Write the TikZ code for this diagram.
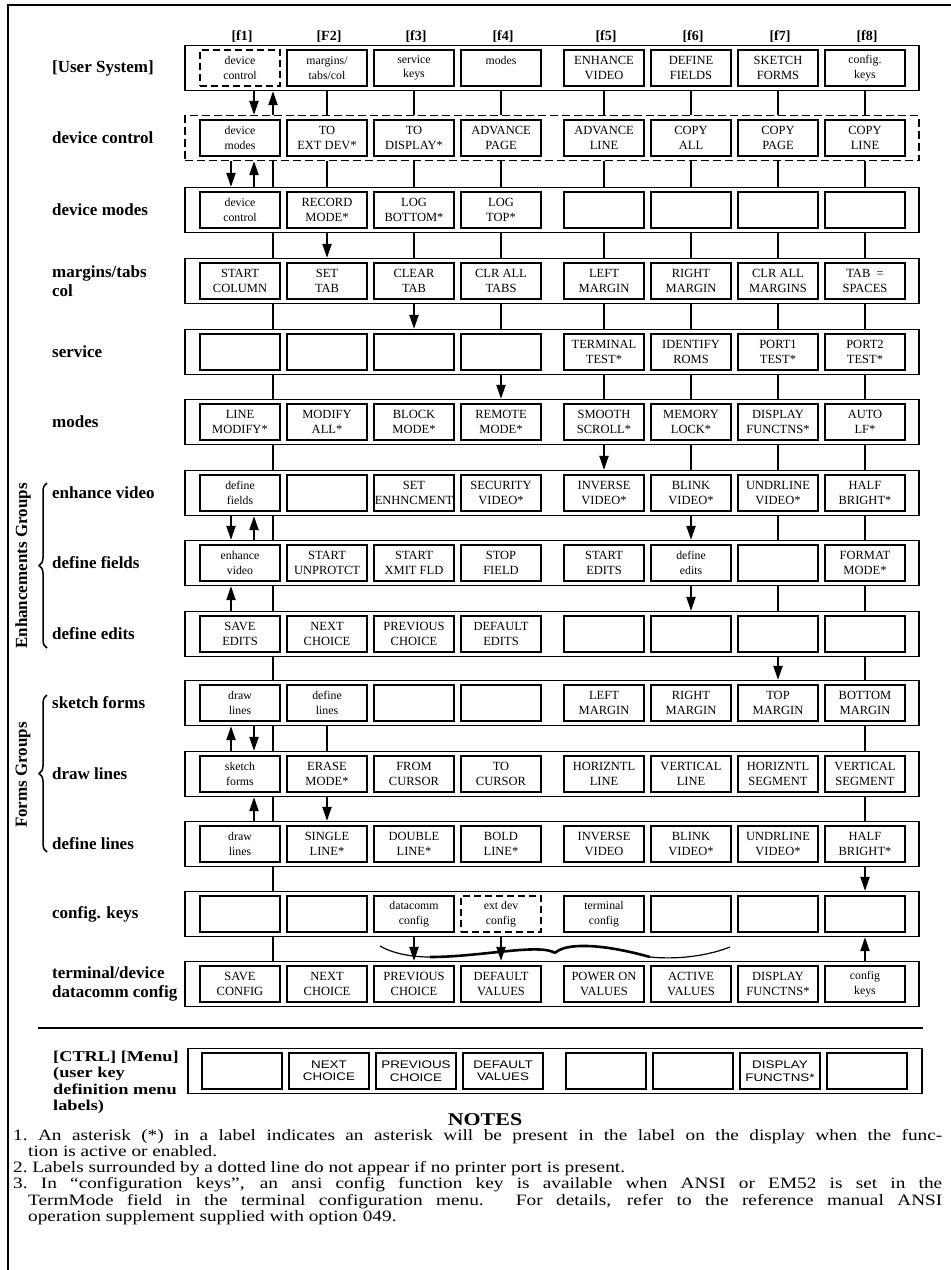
\documentclass[tikz,border=0pt]{standalone}
\usepackage{fontspec}
\setmainfont{Liberation Serif}
\newfontfamily\wideserif[FakeStretch=1.22,Ligatures=TeX]{Liberation Serif}
\newfontfamily\widesans[FakeStretch=1.22]{Liberation Sans}
\usepackage{tikz}
\usetikzlibrary{arrows.meta}
\usetikzlibrary{decorations.pathreplacing}

\tikzset{
  strip/.style={draw, line width=1.2pt, minimum width=734pt, minimum height=45pt, inner sep=0pt},
  dstrip/.style={strip, dash pattern=on 8pt off 4pt},
  key/.style={draw, line width=1.3pt, minimum width=80pt, minimum height=36pt, inner sep=0pt,
    align=center, font=\fontsize{12.5}{14.5}\selectfont},
  lkey/.style={key, font=\fontsize{11.8}{14.5}\selectfont},
  dkey/.style={lkey, dash pattern=on 7pt off 4pt},
  mkey/.style={key, font=\widesans\fontsize{11}{12.5}\selectfont},
  link/.style={line width=2pt},
  arr/.style={line width=2pt, -{Triangle[length=14pt, width=9pt]}},
  rowlab/.style={anchor=west, align=left, inner sep=0pt, font=\bfseries\fontsize{17}{19}\selectfont},
  head/.style={anchor=base, inner sep=0pt, font=\bfseries\fontsize{14}{16}\selectfont}
}

\begin{document}
\begin{tikzpicture}[x=1pt, y=-1pt]
                  \useasboundingbox (0,0) rectangle (951,1270);

                  % Define columns
                  \foreach \xx [count=\col] in {240,327,414,501,604,691,778,865}
                    \coordinate (c\col) at (\xx,0);
                  \coordinate (ca) at (231,0);
                  \coordinate (cb) at (254,0);
                  \coordinate (cc) at (273,0);
                  \coordinate (lx) at (52,0);
                  \coordinate (hy) at (0,40);

                  % Frame
                  \draw[line width=2.5pt] (951,5) -- (8,5) -- (8,1270);
                  \draw[line width=2.5pt] (38,1028) -- (923,1028);

                  % Draw rows
                  \foreach \st/\yy [count=\r] in {strip/68, dstrip/138, strip/210, strip/281, strip/352,
                      strip/422, strip/493, strip/563, strip/634, strip/703, strip/774, strip/844,
                      strip/914, strip/984}
                    \node[\st] (row\r) at (552,\yy) {};
                  \node[strip] (row15) at (555,1071) {};

                  % Keys
                  \foreach \st/\lbl [count=\col] in {dkey/{device\\control}, lkey/{margins/\\tabs/col}, lkey/{service\\keys}, lkey/{modes\\\mbox{}}, key/{ENHANCE\\VIDEO}, key/{DEFINE\\FIELDS}, key/{SKETCH\\FORMS}, lkey/{config.\\keys}}
                    \node[\st] (k1-\col) at (c\col |- row1) {\lbl};
                  \foreach \st/\lbl [count=\col] in {lkey/{device\\modes}, key/{TO\\EXT DEV*}, key/{TO\\DISPLAY*}, key/{ADVANCE\\PAGE}, key/{ADVANCE\\LINE}, key/{COPY\\ALL}, key/{COPY\\PAGE}, key/{COPY\\LINE}}
                    \node[\st] (k2-\col) at (c\col |- row2) {\lbl};
                  \foreach \st/\lbl [count=\col] in {lkey/{device\\control}, key/{RECORD\\MODE*}, key/{LOG\\BOTTOM*}, key/{LOG\\TOP*}, key/{}, key/{}, key/{}, key/{}}
                    \node[\st] (k3-\col) at (c\col |- row3) {\lbl};
                  \foreach \st/\lbl [count=\col] in {key/{START\\COLUMN}, key/{SET\\TAB}, key/{CLEAR\\TAB}, key/{CLR ALL\\TABS}, key/{LEFT\\MARGIN}, key/{RIGHT\\MARGIN}, key/{CLR ALL\\MARGINS}, key/{TAB\ \ =\\SPACES}}
                    \node[\st] (k4-\col) at (c\col |- row4) {\lbl};
                  \foreach \st/\lbl [count=\col] in {key/{}, key/{}, key/{}, key/{}, key/{TERMINAL\\TEST*}, key/{IDENTIFY\\ROMS}, key/{PORT1\\TEST*}, key/{PORT2\\TEST*}}
                    \node[\st] (k5-\col) at (c\col |- row5) {\lbl};
                  \foreach \st/\lbl [count=\col] in {key/{LINE\\MODIFY*}, key/{MODIFY\\ALL*}, key/{BLOCK\\MODE*}, key/{REMOTE\\MODE*}, key/{SMOOTH\\SCROLL*}, key/{MEMORY\\LOCK*}, key/{DISPLAY\\FUNCTNS*}, key/{AUTO\\LF*}}
                    \node[\st] (k6-\col) at (c\col |- row6) {\lbl};
                  \foreach \st/\lbl [count=\col] in {lkey/{define\\fields}, key/{}, key/{SET\\ENHNCMENT}, key/{SECURITY\\VIDEO*}, key/{INVERSE\\VIDEO*}, key/{BLINK\\VIDEO*}, key/{UNDRLINE\\VIDEO*}, key/{HALF\\BRIGHT*}}
                    \node[\st] (k7-\col) at (c\col |- row7) {\lbl};
                  \foreach \st/\lbl [count=\col] in {lkey/{enhance\\video}, key/{START\\UNPROTCT}, key/{START\\XMIT FLD}, key/{STOP\\FIELD}, key/{START\\EDITS}, lkey/{define\\edits}, key/{}, key/{FORMAT\\MODE*}}
                    \node[\st] (k8-\col) at (c\col |- row8) {\lbl};
                  \foreach \st/\lbl [count=\col] in {key/{SAVE\\EDITS}, key/{NEXT\\CHOICE}, key/{PREVIOUS\\CHOICE}, key/{DEFAULT\\EDITS}, key/{}, key/{}, key/{}, key/{}}
                    \node[\st] (k9-\col) at (c\col |- row9) {\lbl};
                  \foreach \st/\lbl [count=\col] in {lkey/{draw\\lines}, lkey/{define\\lines}, key/{}, key/{}, key/{LEFT\\MARGIN}, key/{RIGHT\\MARGIN}, key/{TOP\\MARGIN}, key/{BOTTOM\\MARGIN}}
                    \node[\st] (k10-\col) at (c\col |- row10) {\lbl};
                  \foreach \st/\lbl [count=\col] in {lkey/{sketch\\forms}, key/{ERASE\\MODE*}, key/{FROM\\CURSOR}, key/{TO\\CURSOR}, key/{HORIZNTL\\LINE}, key/{VERTICAL\\LINE}, key/{HORIZNTL\\SEGMENT}, key/{VERTICAL\\SEGMENT}}
                    \node[\st] (k11-\col) at (c\col |- row11) {\lbl};
                  \foreach \st/\lbl [count=\col] in {lkey/{draw\\lines}, key/{SINGLE\\LINE*}, key/{DOUBLE\\LINE*}, key/{BOLD\\LINE*}, key/{INVERSE\\VIDEO}, key/{BLINK\\VIDEO*}, key/{UNDRLINE\\VIDEO*}, key/{HALF\\BRIGHT*}}
                    \node[\st] (k12-\col) at (c\col |- row12) {\lbl};
                  \foreach \st/\lbl [count=\col] in {key/{}, key/{}, lkey/{datacomm\\config}, dkey/{ext dev\\config}, lkey/{terminal\\config}, key/{}, key/{}, key/{}}
                    \node[\st] (k13-\col) at (c\col |- row13) {\lbl};
                  \foreach \st/\lbl [count=\col] in {key/{SAVE\\CONFIG}, key/{NEXT\\CHOICE}, key/{PREVIOUS\\CHOICE}, key/{DEFAULT\\VALUES}, key/{POWER ON\\VALUES}, key/{ACTIVE\\VALUES}, key/{DISPLAY\\FUNCTNS*}, lkey/{config\\keys}}
                    \node[\st] (k14-\col) at (c\col |- row14) {\lbl};
                  \foreach \lbl [count=\col] in {{}, {NEXT\\CHOICE}, {PREVIOUS\\CHOICE}, {DEFAULT\\VALUES}, {}, {}, {DISPLAY\\FUNCTNS*}, {}}
                    \node[mkey, xshift=2pt] (k15-\col) at (c\col |- row15) {\lbl};

                  % Links between rows
                  \draw[arr] (row1.south -| cb) -- (row2.north -| cb);
                  \draw[arr] (row2.north -| cc) -- (row1.south -| cc);
                  \foreach \p in {c2,c3,c4,c5,c6,c7,c8} \draw[link] (row1.south -| \p) -- (row2.north -| \p);

                  \draw[arr] (row2.south -| ca) -- (row3.north -| ca);
                  \draw[arr] (row3.north -| cb) -- (row2.south -| cb);
                  \foreach \p in {cc,c2,c3,c4,c5,c6,c7,c8} \draw[link] (row2.south -| \p) -- (row3.north -| \p);

                  \draw[arr] (row3.south -| c2) -- (row4.north -| c2);
                  \foreach \p in {cc,c3,c4,c5,c6,c7,c8} \draw[link] (row3.south -| \p) -- (row4.north -| \p);

                  \draw[arr] (row4.south -| c3) -- (row5.north -| c3);
                  \foreach \p in {cc,c4,c5,c6,c7,c8} \draw[link] (row4.south -| \p) -- (row5.north -| \p);

                  \draw[arr] (row5.south -| c4) -- (row6.north -| c4);
                  \foreach \p in {cc,c5,c6,c7,c8} \draw[link] (row5.south -| \p) -- (row6.north -| \p);

                  \draw[arr] (row6.south -| c5) -- (row7.north -| c5);
                  \foreach \p in {cc,c6,c7,c8} \draw[link] (row6.south -| \p) -- (row7.north -| \p);

                  \draw[arr] (row7.south -| ca) -- (row8.north -| ca);
                  \draw[arr] (row8.north -| cb) -- (row7.south -| cb);
                  \draw[arr] (row7.south -| c6) -- (row8.north -| c6);
                  \foreach \p in {cc,c7,c8} \draw[link] (row7.south -| \p) -- (row8.north -| \p);

                  \draw[arr] (row9.north -| ca) -- (row8.south -| ca);
                  \draw[arr] (row8.south -| c6) -- (row9.north -| c6);
                  \foreach \p in {cc,c7,c8} \draw[link] (row8.south -| \p) -- (row9.north -| \p);

                  \draw[arr] (row9.south -| c7) -- (row10.north -| c7);
                  \foreach \p in {cc,c8} \draw[link] (row9.south -| \p) -- (row10.north -| \p);

                  \draw[arr] (row11.north -| ca) -- (row10.south -| ca);
                  \draw[arr] (row10.south -| cb) -- (row11.north -| cb);
                  \foreach \p in {cc,c2,c8} \draw[link] (row10.south -| \p) -- (row11.north -| \p);

                  \draw[arr] (row12.north -| cb) -- (row11.south -| cb);
                  \draw[arr] (row11.south -| c2) -- (row12.north -| c2);
                  \foreach \p in {cc,c8} \draw[link] (row11.south -| \p) -- (row12.north -| \p);

                  \draw[arr] (row12.south -| c8) -- (row13.north -| c8);
                  \draw[link] (row12.south -| cc) -- (row13.north -| cc);

                  \draw[arr] (row13.south -| c3) -- (row14.north -| c3);
                  \draw[arr] (row13.south -| c4) -- (row14.north -| c4);
                  \draw[arr] (row14.north -| c8) -- (row13.south -| c8);
                  \draw[link] (row13.south -| cc) -- (row14.north -| cc);

                  % Wavy brace under config keys
                  \draw[line width=1.2pt] (380,946) .. controls (392,953) and (410,957) .. (430,957);
                  \draw[line width=2.6pt] (430,957) .. controls (480,957) and (540,943) .. (555,953);
                  \draw[line width=2.6pt] (555,953) .. controls (565,943) and (600,943) .. (650,957);
                  \draw[line width=1.2pt] (650,957) .. controls (680,960) and (710,955) .. (730,947);

                  % Labels
                  \foreach \lbl [count=\col] in {{[f1]},{[F2]},{[f3]},{[f4]},{[f5]},{[f6]},{[f7]},{[f8]}}
                    \node[head, xshift=2pt] (hd\col) at (c\col |- hy) {\lbl};
                  \foreach \lbl [count=\r] in {{[User System]}, {device control}, {device modes}, {margins/tabs\\col},
                      {service}, {modes}, {enhance video}, {define fields}, {define edits}, {sketch forms},
                      {draw lines}, {define lines}, {config. keys}, {terminal/device\\datacomm config}}
                    \node[rowlab] (lab\r) at (lx |- row\r) {\lbl};
                  \node[anchor=north west, align=left, inner sep=0pt,
                    font=\wideserif\bfseries\fontsize{15}{16.3}\selectfont] (lab15) at (53,1051)
                    {[CTRL] [Menu]\\(user key\\definition menu\\labels)};

                  % Groups
                  \draw[decorate, decoration={brace, amplitude=8pt}, line width=1.5pt] (47,648) -- (47,483);
                  \draw[decorate, decoration={brace, amplitude=8pt}, line width=1.5pt] (47,852) -- (47,695);
                  \node[rotate=90, inner sep=0pt, font=\bfseries\fontsize{17}{19}\selectfont] (grpenh) at (23,566) {Enhancements Groups};
                  \node[rotate=90, inner sep=0pt, font=\bfseries\fontsize{17}{19}\selectfont] (grpforms) at (23,775) {Forms Groups};

                  % Notes
                  \node[anchor=base, inner sep=0pt, font=\wideserif\bfseries\fontsize{18}{20}\selectfont] (notes) at (485,1125) {NOTES};
                  \node[anchor=north west, inner sep=0pt] (notetext) at (13,1129) {\parbox[t]{929pt}{\wideserif\fontsize{15.8}{16.2}\selectfont
                    \tolerance=9999\emergencystretch=20pt
                    \hangindent=15pt\hangafter=1\noindent 1.\ An asterisk (*) in a label indicates an asterisk will be present in the label on the display when the func-\linebreak tion is active or enabled.\par
                    \hangindent=15pt\hangafter=1\noindent 2.\ Labels surrounded by a dotted line do not appear if no printer port is present.\par
                    \hangindent=15pt\hangafter=1\noindent 3.\ In ``configuration keys'', an ansi config function key is available when ANSI or EM52 is set in the\linebreak TermMode field in the terminal configuration menu. For details, refer to the reference manual ANSI\linebreak operation supplement supplied with option 049.\par}};

              \end{tikzpicture}
\end{document}
